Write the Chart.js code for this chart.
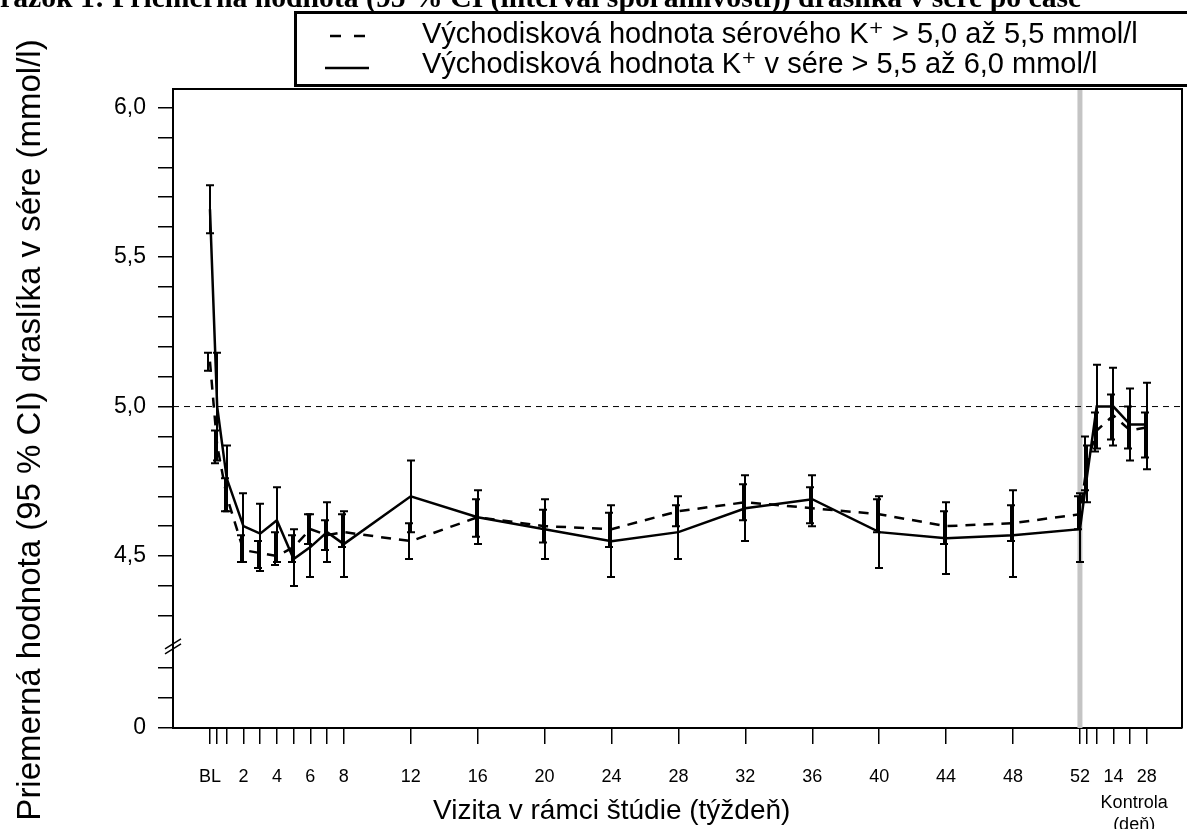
<!DOCTYPE html>
<html>
<head>
<meta charset="utf-8">
<script src="https://cdn.jsdelivr.net/npm/chart.js@4"></script>
<style>
  html, body { margin: 0; padding: 0; background: #fff; }
  canvas { display: block; }
</style>
</head>
<body>
<canvas id="grafico" width="1187" height="829"></canvas>
<script>
// vizity: BL, deň 3, týždne 1-52, potom kontrola (deň 3, 7, 14, 21, 28 po týždni 52)
const visits = ["BL", "D3", "T1", "T2", "T3", "T4", "T5", "T6", "T7", "T8", "T12", "T16", "T20", "T24", "T28", "T32", "T36", "T40", "T44", "T48", "T52", "K3", "K7", "K14", "K21", "K28"];
const visitWeeks = [0, 0.43, 1, 2, 3, 4, 5, 6, 7, 8, 12, 16, 20, 24, 28, 32, 36, 40, 44, 48, 52, 52.43, 53, 54, 55, 56];
const visitTickLabels = ["BL", "", "", "2", "", "4", "", "6", "", "8", "12", "16", "20", "24", "28", "32", "36", "40", "44", "48", "52", "", "", "14", "", "28"];

// K+ > 5,0 az 5,5 (prerusovana ciara)
const meanMid = [5.15, 4.87, 4.70, 4.52, 4.51, 4.50, 4.53, 4.59, 4.57, 4.58, 4.55, 4.63, 4.60, 4.59, 4.65, 4.68, 4.66, 4.64, 4.60, 4.61, 4.64, 4.81, 4.92, 4.97, 4.92, 4.93];
const lowMid  = [5.12, 4.81, 4.65, 4.48, 4.46, 4.47, 4.48, 4.54, 4.52, 4.53, 4.49, 4.565, 4.545, 4.53, 4.60, 4.62, 4.61, 4.58, 4.54, 4.55, 4.59, 4.72, 4.85, 4.89, 4.86, 4.83];
const highMid = [5.18, 4.92, 4.76, 4.57, 4.55, 4.58, 4.57, 4.64, 4.62, 4.64, 4.61, 4.69, 4.655, 4.645, 4.67, 4.74, 4.73, 4.69, 4.65, 4.67, 4.70, 4.90, 4.98, 5.04, 5.00, 4.98];

// K+ > 5,5 az 6,0 (plna ciara)
const meanHigh = [5.66, 5.00, 4.76, 4.60, 4.575, 4.62, 4.49, 4.53, 4.58, 4.54, 4.70, 4.63, 4.59, 4.55, 4.58, 4.66, 4.69, 4.58, 4.56, 4.57, 4.59, 4.77, 5.00, 5.00, 4.94, 4.94];
const lowHigh  = [5.58, 4.82, 4.65, 4.48, 4.45, 4.48, 4.40, 4.43, 4.48, 4.43, 4.58, 4.54, 4.49, 4.43, 4.49, 4.55, 4.60, 4.46, 4.44, 4.43, 4.48, 4.68, 4.86, 4.87, 4.82, 4.79];
const highHigh = [5.74, 5.18, 4.87, 4.71, 4.675, 4.73, 4.59, 4.64, 4.68, 4.65, 4.82, 4.72, 4.69, 4.67, 4.70, 4.77, 4.77, 4.70, 4.68, 4.72, 4.71, 4.87, 5.14, 5.13, 5.06, 5.08];

// os y je prerusena: spodna znacka "0" lezi tesne pod 4,0
const yTickValues = [3.925, 4.025, 4.125, 4.3, 4.4, 4.5, 4.6, 4.7, 4.8, 4.9, 5.0, 5.1, 5.2, 5.3, 5.4, 5.5, 5.6, 5.7, 5.8, 5.9, 6.0];
const yTickLabels = ["0", "", "", "", "", "4,5", "", "", "", "", "5,0", "", "", "", "", "5,5", "", "", "", "", "6,0"];

const labelMid = "Východisková hodnota sérového K⁺ > 5,0 až 5,5 mmol/l";
const labelHigh = "Východisková hodnota K⁺ v sére > 5,5 až 6,0 mmol/l";
const titleText = "Obrázok 1: Priemerná hodnota (95 % CI (interval spoľahlivosti)) draslíka v sére po čase";
const yTitle = "Priemerná hodnota (95 % CI) draslíka v sére (mmol/l)";
const xTitle = "Vizita v rámci štúdie (týždeň)";

const SANS = "'Liberation Sans', Arial, 'DejaVu Sans', sans-serif";
const SERIF = "'Liberation Serif', 'Times New Roman', serif";

const errorBars = {
  id: "errorBars",
  afterDatasetsDraw(chart) {
    const { ctx, scales: { x, y } } = chart;
    const sets = [[lowMid, highMid, -2], [lowHigh, highHigh, 0]];
    ctx.save();
    ctx.strokeStyle = "#000";
    ctx.lineWidth = 2;
    sets.forEach(([lo, hi, dx]) => {
      visitWeeks.forEach((w, i) => {
        const px = Math.round(x.getPixelForValue(w)) + dx;
        const top = y.getPixelForValue(hi[i]);
        const bot = y.getPixelForValue(lo[i]);
        ctx.beginPath();
        ctx.moveTo(px, top); ctx.lineTo(px, bot);
        ctx.moveTo(px - 4, top); ctx.lineTo(px + 4, top);
        ctx.moveTo(px - 4, bot); ctx.lineTo(px + 4, bot);
        ctx.stroke();
      });
    });
    ctx.restore();
  }
};

const decor = {
  id: "decor",
  beforeDatasetsDraw(chart) {
    const { ctx, chartArea: a, scales: { x, y } } = chart;
    ctx.save();
    // siva zvisla ciara na konci liecby (tyzden 52)
    const x52 = x.getPixelForValue(52);
    ctx.strokeStyle = "#c4c4c4";
    ctx.lineWidth = 5;
    ctx.beginPath();
    ctx.moveTo(x52, a.top); ctx.lineTo(x52, a.bottom);
    ctx.stroke();
    // referencna ciara 5,0
    const y5 = y.getPixelForValue(5.0);
    ctx.strokeStyle = "#000";
    ctx.lineWidth = 1;
    ctx.setLineDash([6, 5]);
    ctx.beginPath();
    ctx.moveTo(a.left, y5); ctx.lineTo(a.right, y5);
    ctx.stroke();
    ctx.restore();
  },
  afterDraw(chart) {
    const { ctx, chartArea: a, scales: { x, y } } = chart;
    ctx.save();
    // ram grafu hore a vpravo
    ctx.strokeStyle = "#000";
    ctx.lineWidth = 2;
    ctx.beginPath();
    ctx.moveTo(a.left, a.top); ctx.lineTo(a.right, a.top); ctx.lineTo(a.right, a.bottom);
    ctx.stroke();

    // prerusenie osi y
    const yb = y.getPixelForValue(4.2);
    ctx.lineWidth = 1.5;
    ctx.beginPath();
    ctx.moveTo(a.left - 8, yb + 8); ctx.lineTo(a.left + 8, yb - 2);
    ctx.moveTo(a.left - 8, yb + 3); ctx.lineTo(a.left + 8, yb - 7);
    ctx.stroke();

    // nadpis (orezany hore)
    ctx.fillStyle = "#000";
    ctx.font = "bold 100px " + SERIF;
    const ref = ctx.measureText("rázok 1: Priemerná hodnota (95 % CI (interval").width;
    ctx.font = "bold " + (100 * 600 / ref).toFixed(1) + "px " + SERIF;
    ctx.textAlign = "left";
    ctx.textBaseline = "alphabetic";
    ctx.fillText(titleText, -ctx.measureText("Ob").width, 7);

    // legenda
    ctx.fillStyle = "#fff";
    ctx.fillRect(296, 12, 900, 74);
    ctx.lineWidth = 3;
    ctx.strokeStyle = "#000";
    ctx.beginPath();
    ctx.moveTo(1190, 12.5); ctx.lineTo(295.5, 12.5); ctx.lineTo(295.5, 85.5); ctx.lineTo(1190, 85.5);
    ctx.stroke();
    ctx.lineWidth = 2.5;
    ctx.setLineDash([11, 13]);
    ctx.beginPath();
    ctx.moveTo(330, 36); ctx.lineTo(366, 36);
    ctx.stroke();
    ctx.setLineDash([]);
    ctx.beginPath();
    ctx.moveTo(325, 68); ctx.lineTo(369, 68);
    ctx.stroke();
    ctx.fillStyle = "#000";
    ctx.font = "29px " + SANS;
    ctx.textBaseline = "middle";
    ctx.fillText(labelMid, 422, 35);
    ctx.fillText(labelHigh, 422, 65);

    // nazvy osi
    ctx.font = "28px " + SANS;
    ctx.textAlign = "left";
    ctx.textBaseline = "alphabetic";
    ctx.fillText(xTitle, 433, 819);
    ctx.font = "18px " + SANS;
    ctx.textAlign = "center";
    ctx.textBaseline = "middle";
    const xk = (x.getPixelForValue(54) + x.getPixelForValue(56)) / 2 + 4;
    ctx.fillText("Kontrola", xk, 803);
    ctx.fillText("(deň)", xk, 825);

    ctx.save();
    ctx.translate(31, 430);
    ctx.rotate(-Math.PI / 2);
    ctx.font = "33px " + SANS;
    ctx.fillText(yTitle, 0, 0);
    ctx.restore();

    ctx.restore();
  }
};

const ctx = document.getElementById("grafico").getContext("2d");

new Chart(ctx, {
  type: "line",
  data: {
    labels: visits,
    datasets: [
      {
        label: labelMid,
        data: visitWeeks.map((w, i) => ({ x: w, y: meanMid[i] })),
        borderColor: "#000",
        borderWidth: 2.5,
        borderDash: [10, 8],
        pointRadius: 0,
        fill: false,
        tension: 0
      },
      {
        label: labelHigh,
        data: visitWeeks.map((w, i) => ({ x: w, y: meanHigh[i] })),
        borderColor: "#000",
        borderWidth: 2.5,
        pointRadius: 0,
        fill: false,
        tension: 0
      }
    ]
  },
  options: {
    responsive: false,
    animation: false,
    devicePixelRatio: 1,
    layout: { padding: { top: 89, right: 5, left: 0, bottom: 0 } },
    plugins: {
      legend: { display: false },
      title: { display: false },
      tooltip: { enabled: false }
    },
    scales: {
      x: {
        type: "linear",
        min: -2.21,
        max: 58.1,
        afterBuildTicks: s => { s.ticks = visitWeeks.map(v => ({ value: v })); },
        afterFit: s => { s.height = 101; },
        grid: { drawOnChartArea: false, drawTicks: true, tickLength: 16, color: "#000", lineWidth: 1.5 },
        border: { display: true, color: "#000", width: 2 },
        ticks: {
          autoSkip: false,
          maxRotation: 0,
          padding: 22,
          color: "#000",
          font: { family: SANS, size: 18 },
          callback: (v, i) => visitTickLabels[i]
        }
      },
      y: {
        type: "linear",
        min: 3.925,
        max: 6.062,
        afterBuildTicks: s => { s.ticks = yTickValues.map(v => ({ value: v })); },
        afterFit: s => { s.width = 173; },
        grid: { drawOnChartArea: false, drawTicks: true, tickLength: 15, color: "#000", lineWidth: 1.5 },
        border: { display: true, color: "#000", width: 2 },
        ticks: {
          autoSkip: false,
          padding: 12,
          color: "#000",
          font: { family: SANS, size: 23 },
          callback: (v, i) => yTickLabels[i]
        }
      }
    }
  },
  plugins: [decor, errorBars]
});
</script>
</body>
</html>
